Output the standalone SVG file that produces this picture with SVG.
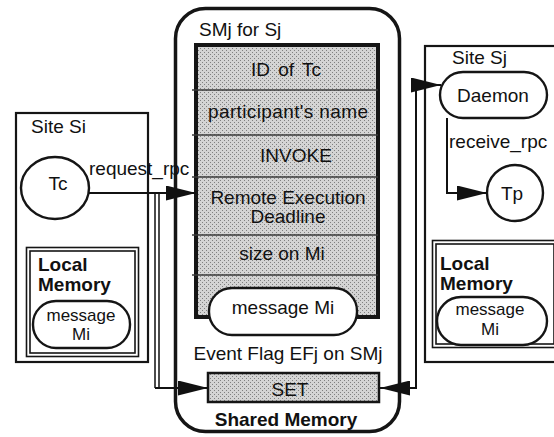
<svg xmlns="http://www.w3.org/2000/svg" width="554" height="437" viewBox="0 0 554 437">
  <defs>
    <!-- stippled gray fill used for the shared-memory table and the flag -->
    <pattern id="stipple" width="4" height="4" patternUnits="userSpaceOnUse">
      <rect width="4" height="4" fill="#d4d4d4"/>
      <rect x="0" y="0" width="1" height="1" fill="#808080"/>
      <rect x="2" y="2" width="1" height="1" fill="#808080"/>
    </pattern>
    <marker id="arrow" markerUnits="userSpaceOnUse" markerWidth="30" markerHeight="15"
            refX="30" refY="7.5" orient="auto-start-reverse" viewBox="0 0 30 15">
      <path d="M0,0 L30,7.5 L0,15 Z" fill="#111"/>
    </marker>
    <style>
      text { font-family: "Liberation Sans", Arial, Helvetica, sans-serif; fill: #111; font-size: 19px; }
      .mid { text-anchor: middle; }
      .bold { font-weight: bold; }
      .small { font-size: 17px; }
      .box { fill: none; stroke: #151515; stroke-width: 2.2; }
      .thin { fill: none; stroke: #151515; stroke-width: 1.6; }
      .node { fill: #fff; stroke: #151515; stroke-width: 2.4; }
      .sep { stroke: #3a3a3a; stroke-width: 1.6; }
      .wire { fill: none; stroke: #111; stroke-width: 2; }
      .wire-thin { fill: none; stroke: #111; stroke-width: 1.5; }
    </style>
  </defs>

  <!-- Site Si -->
  <g id="site-si">
    <rect class="box" x="16" y="113" width="132" height="249"/>
    <text x="31" y="133">Site Si</text>
  </g>
  <g id="tc">
    <ellipse class="node" cx="55" cy="188" rx="34" ry="31"/>
    <text class="mid" x="58" y="190">Tc</text>
  </g>
  <g id="local-memory-si">
    <rect class="thin" x="26.5" y="247.5" width="112" height="109"/>
    <rect class="thin" x="30" y="251" width="105" height="102"/>
    <text class="bold" x="38" y="271">Local</text>
    <text class="bold" x="38" y="291">Memory</text>
  </g>
  <g id="message-mi-si">
    <rect class="node" x="33" y="301" width="97" height="47" rx="23"/>
    <text class="mid small" x="81" y="321">message</text>
    <text class="mid small" x="81" y="340">Mi</text>
  </g>

  <!-- Shared memory SMj -->
  <g id="shared-memory">
    <rect x="175.5" y="8.5" width="224" height="423" rx="30" fill="#fff" stroke="#151515" stroke-width="3.5"/>
    <text x="199" y="36">SMj for Sj</text>
    <text class="mid bold" x="286" y="426">Shared Memory</text>
  </g>
  <g id="smj-table">
    <rect x="196" y="45" width="182" height="272" fill="url(#stipple)" stroke="#151515" stroke-width="4"/>
    <line class="sep" x1="192" y1="90" x2="378" y2="90"/>
    <line class="sep" x1="192" y1="135" x2="378" y2="135"/>
    <line class="sep" x1="192" y1="177" x2="378" y2="177"/>
    <line class="sep" x1="192" y1="235" x2="378" y2="235"/>
    <line class="sep" x1="192" y1="275" x2="378" y2="275"/>
    <text class="mid" x="286" y="76" style="word-spacing:3px">ID of Tc</text>
    <text class="mid" x="288" y="118" textLength="160" lengthAdjust="spacing">participant's name</text>
    <text class="mid" x="296" y="162">INVOKE</text>
    <text class="mid" x="288" y="204">Remote Execution</text>
    <text class="mid" x="288" y="223">Deadline</text>
    <text class="mid" x="282" y="260">size on Mi</text>
  </g>
  <g id="message-mi-smj">
    <rect class="node" x="209" y="288" width="148" height="47" rx="23"/>
    <text class="mid" x="283" y="314">message Mi</text>
  </g>
  <g id="event-flag">
    <text class="mid" x="288" y="360">Event Flag EFj on SMj</text>
    <rect x="208" y="373" width="171" height="29" fill="url(#stipple)" stroke="#151515" stroke-width="2.5"/>
    <text class="mid" x="290" y="396">SET</text>
  </g>

  <!-- Site Sj -->
  <g id="site-sj">
    <rect class="box" x="425" y="46" width="140" height="316"/>
    <text x="452" y="64">Site Sj</text>
  </g>
  <g id="daemon">
    <rect class="node" x="440" y="72" width="107" height="46" rx="23"/>
    <text class="mid" x="493" y="102">Daemon</text>
  </g>
  <g id="tp">
    <circle class="node" cx="515" cy="193" r="28"/>
    <text class="mid" x="512" y="200">Tp</text>
  </g>
  <g id="local-memory-sj">
    <rect class="thin" x="432.5" y="240.5" width="125" height="107"/>
    <rect class="thin" x="436" y="244" width="118" height="100"/>
    <text class="bold" x="440" y="270">Local</text>
    <text class="bold" x="440" y="290">Memory</text>
  </g>
  <g id="message-mi-sj">
    <rect class="node" x="437" y="297" width="110" height="48" rx="24"/>
    <text class="mid small" x="490" y="315">message</text>
    <text class="mid small" x="490" y="335">Mi</text>
  </g>

  <!-- connectors -->
  <g id="connectors">
    <!-- Tc: request_rpc into SMj -->
    <path class="wire" d="M89,193 H196" marker-end="url(#arrow)"/>
    <text x="89" y="175">request_rpc</text>
    <!-- Tc sets the event flag -->
    <path class="wire-thin" d="M155,193 V388 M159,193 V388"/>
    <path class="wire" d="M155,388 H208" marker-end="url(#arrow)"/>
    <!-- event flag wakes the daemon -->
    <path class="wire" d="M380,388 H416 V85 H441" marker-start="url(#arrow)" marker-end="url(#arrow)"/>
    <!-- daemon: receive_rpc starts Tp -->
    <path class="wire" d="M447,118 V193 H487" marker-end="url(#arrow)"/>
    <text x="449" y="148">receive_rpc</text>
  </g>
</svg>
